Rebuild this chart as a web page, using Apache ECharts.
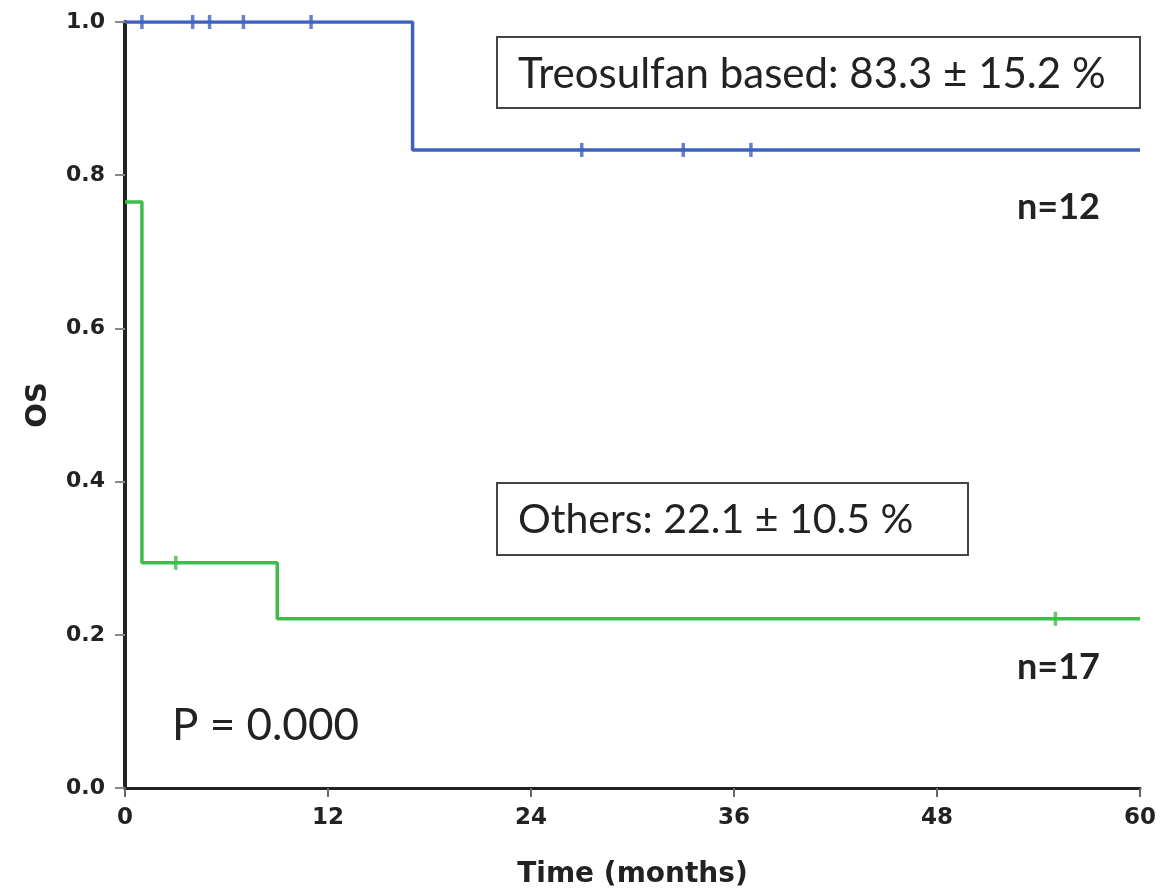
<!DOCTYPE html>
<html>
<head>
<meta charset="utf-8">
<script src="https://cdn.jsdelivr.net/npm/echarts@6/dist/echarts.min.js"></script>
<style>
  html, body { margin: 0; padding: 0; background: #fff; }
  #chart { width: 1173px; height: 896px; }
</style>
</head>
<body>
<div id="chart"></div>
<script>
// Kaplan-Meier steps: [time (months), survival]
const treoSteps = [[0, 1.0], [17, 0.833], [60, 0.833]]
const otherSteps = [[0, 0.765], [1, 0.294], [9, 0.221], [60, 0.221]]

// censored observations
const treoCensored = [[1, 1.0], [4, 1.0], [5, 1.0], [7, 1.0], [11, 1.0], [27, 0.833], [33, 0.833], [37, 0.833]]
const otherCensored = [[3, 0.294], [55, 0.221]]

const xTicks = [0, 12, 24, 36, 48, 60]
const yTicks = [0, 0.2, 0.4, 0.6, 0.8, 1.0]

const blue = '#4060c0'
const green = '#3dbd49'

const axisFont = 'DejaVu Sans, Arial'
const noteFont = 'Lato, Open Sans, sans-serif'

const chart = echarts.init(document.getElementById('chart'))

chart.setOption({
  animation: false,
  backgroundColor: '#fff',
  grid: { left: 125, right: 33, top: 22, bottom: 108 },
  xAxis: {
    type: 'value',
    min: xTicks[0],
    max: xTicks[xTicks.length - 1],
    interval: 12,
    name: 'Time (months)',
    nameLocation: 'middle',
    nameGap: 73,
    nameTextStyle: { fontFamily: axisFont, fontWeight: 'bold', fontSize: 28, color: '#222' },
    axisLine: { lineStyle: { color: '#222', width: 3 } },
    axisTick: { length: 9, lineStyle: { color: '#666', width: 2 } },
    axisLabel: { margin: 19, fontFamily: axisFont, fontWeight: 'bold', fontSize: 23, color: '#222' },
    splitLine: { show: false }
  },
  yAxis: {
    type: 'value',
    min: yTicks[0],
    max: yTicks[yTicks.length - 1],
    interval: 0.2,
    name: 'OS',
    nameLocation: 'middle',
    nameGap: 72,
    nameRotate: 90,
    nameTextStyle: { fontFamily: axisFont, fontWeight: 'bold', fontSize: 29, color: '#222' },
    axisLine: { show: true, lineStyle: { color: '#222', width: 4 } },
    axisTick: { show: true, length: 10, lineStyle: { color: '#888', width: 2 } },
    axisLabel: { margin: 20, fontFamily: axisFont, fontWeight: 'bold', fontSize: 22, color: '#222', formatter: v => v.toFixed(1) },
    splitLine: { show: false }
  },
  series: [
    {
      name: 'Treosulfan based',
      type: 'line',
      step: 'end',
      data: treoSteps,
      showSymbol: false,
      lineStyle: { color: blue, width: 3.5 },
      z: 3
    },
    {
      name: 'Others',
      type: 'line',
      step: 'end',
      data: otherSteps,
      showSymbol: false,
      lineStyle: { color: green, width: 3.5 },
      z: 2
    },
    {
      type: 'scatter',
      data: treoCensored,
      symbol: 'rect',
      symbolSize: [3.5, 14],
      itemStyle: { color: blue },
      z: 4
    },
    {
      type: 'scatter',
      data: otherCensored,
      symbol: 'rect',
      symbolSize: [3.5, 14],
      itemStyle: { color: green },
      z: 4
    }
  ],
  graphic: [
    {
      type: 'rect',
      shape: { x: 497, y: 37, width: 643, height: 71 },
      style: { fill: '#fff', stroke: '#444', lineWidth: 2 },
      z: 10
    },
    {
      type: 'text',
      x: 518, y: 74,
      style: { text: 'Treosulfan based: 83.3 ± 15.2 %', font: '42px ' + noteFont, fill: '#222', verticalAlign: 'middle' },
      z: 11
    },
    {
      type: 'rect',
      shape: { x: 497, y: 483, width: 471, height: 72 },
      style: { fill: '#fff', stroke: '#444', lineWidth: 2 },
      z: 10
    },
    {
      type: 'text',
      x: 518, y: 520,
      style: { text: 'Others: 22.1 ± 10.5 %', font: '41px ' + noteFont, fill: '#222', verticalAlign: 'middle' },
      z: 11
    },
    {
      type: 'text',
      x: 1017, y: 207,
      style: { text: 'n=12', font: 'bold 36px ' + noteFont, fill: '#222', verticalAlign: 'middle' },
      z: 11
    },
    {
      type: 'text',
      x: 1017, y: 667,
      style: { text: 'n=17', font: 'bold 36px ' + noteFont, fill: '#222', verticalAlign: 'middle' },
      z: 11
    },
    {
      type: 'text',
      x: 172, y: 726,
      style: { text: 'P = 0.000', font: '44px ' + noteFont, fill: '#222', verticalAlign: 'middle' },
      z: 11
    }
  ]
})
</script>
</body>
</html>
